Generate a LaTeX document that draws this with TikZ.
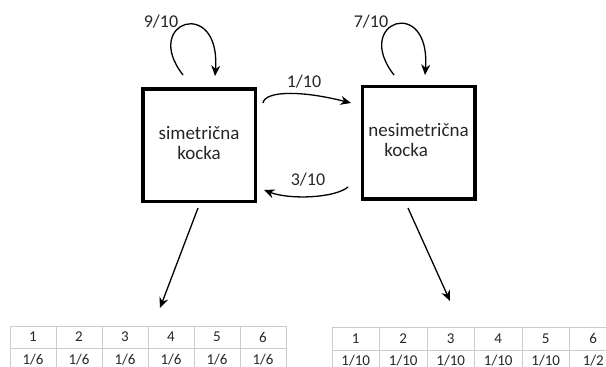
\documentclass[tikz,border=0pt]{standalone}
\usepackage{fontspec}
\setmainfont{Carlito}
\usetikzlibrary{arrows.meta,positioning}
\tikzset{x=1pt, y=-1pt,
         every node/.style={ % text of the picture
           font=\fontsize{18}{20}\selectfont,
           text=black!85},
         kocka/.style={      % the two dice
           draw,
           line width=3.5pt,
           minimum size=112.5pt,
           inner sep=0pt,
           font=\fontsize{19}{20}\selectfont,
           align=center},
         cell/.style={       % one cell of a table
           draw=black!20,
           line width=0.8pt,
           minimum height=22pt,
           inner sep=0pt,
           font=\fontsize{15}{16}\selectfont},
         trans/.style={      % transitions
           draw,
           ->,>={Stealth[length=10.5pt,width=9pt]},
           line width=1.3pt}}

\begin{document}
\begin{tikzpicture}
\clip (0,0) rectangle (606,367);

\node[kocka] (s1) at (199,145) {\raisebox{-4pt}{\begin{tabular}{@{}c@{}}simetrična\\kocka\end{tabular}}};
\node[kocka] (s2) at (418.5,142.5) {\raisebox{-4pt}{\begin{tabular}{@{}l@{}}nesimetrična\\\hspace*{16pt}kocka\end{tabular}}};

% loops
\coordinate (l1a) at (183,75);
\coordinate (l1b) at (215,76);
\coordinate (l2a) at (394,75);
\coordinate (l2b) at (425,75);
\draw[trans] (l1a) .. controls +(-42,-54) and +(6,-80) .. (l1b);
\draw[trans] (l2a) .. controls +(-42,-54) and +(6,-80) .. (l2b);
\node (p11) at (161,22) {9/10};
\node (p22) at (371,22) {7/10};

% between the dice
\coordinate (a12) at (263,103);
\coordinate (b12) at (351,103);
\coordinate (a21) at (348,187);
\coordinate (b21) at (264,190);
\draw[trans] (a12) .. controls (265,91) and (300,90) .. (b12);
\draw[trans] (a21) .. controls (335,198) and (290,200) .. (b21);
\node (p12) at (304,82) {1/10};
\node (p21) at (308,180) {3/10};

% to the tables
\coordinate (d1) at (198,208);
\coordinate (e1) at (160,308);
\coordinate (d2) at (408,208);
\coordinate (e2) at (450,301);
\draw[trans] (d1) -- (e1);
\draw[trans] (d2) -- (e2);

% tables
\foreach \i/\p in {1/1\slash6,2/1\slash6,3/1\slash6,4/1\slash6,5/1\slash6,6/1\slash6} {
  \node[cell, minimum width=46pt] (t1\i) at (10+46*\i-23,337) {\i};
  \node[cell, minimum width=46pt, below=0pt of t1\i] (v1\i) {\raisebox{2pt}{\p}};
}
\foreach \i/\p in {1/1\slash10,2/1\slash10,3/1\slash10,4/1\slash10,5/1\slash10,6/1\slash2} {
  \node[cell, minimum width=47.5pt, minimum height=23pt] (t2\i) at (332+47.5*\i-23.75,338.5) {\i};
  \node[cell, minimum width=47.5pt, minimum height=23pt, below=0pt of t2\i] (v2\i) {\raisebox{5pt}{\p}};
}
\end{tikzpicture}
\end{document}
